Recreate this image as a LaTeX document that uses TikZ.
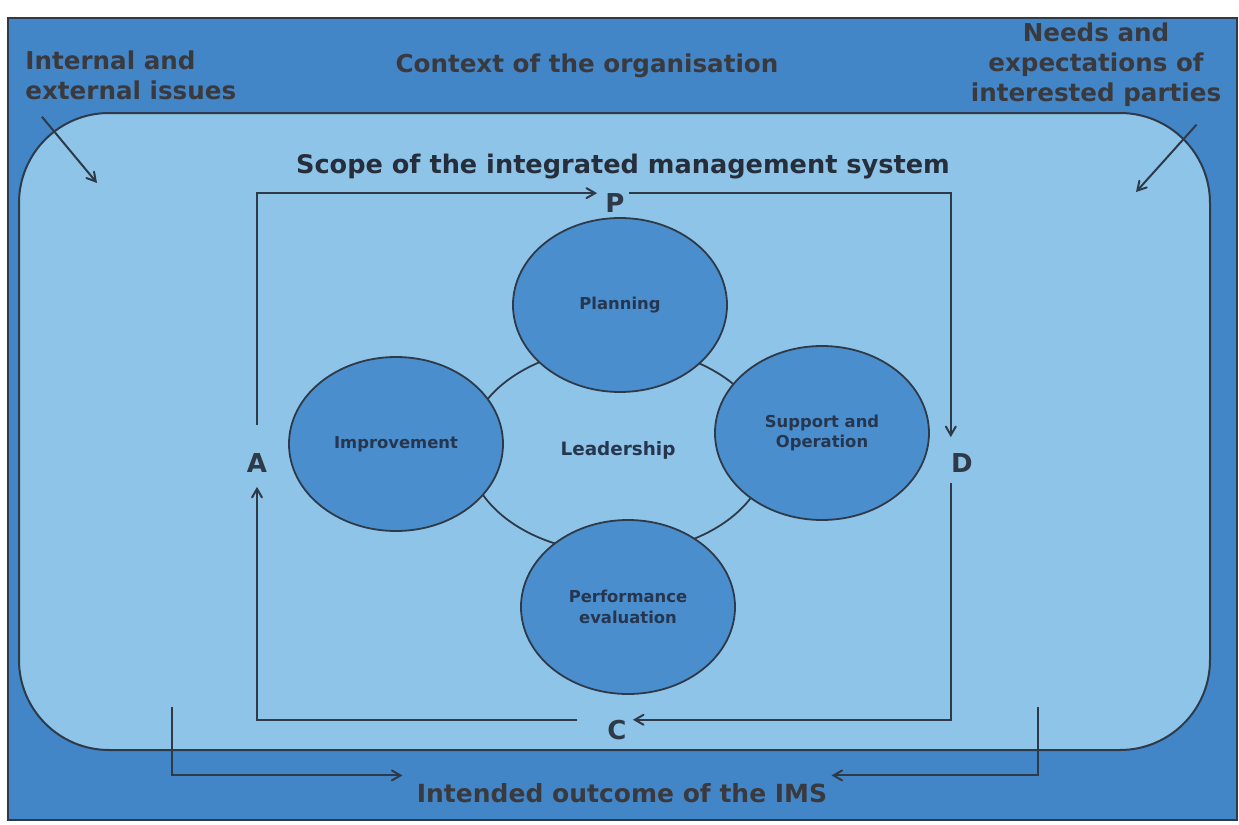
\documentclass[tikz,border=0pt]{standalone}
\usepackage{fontspec}
\setmainfont{DejaVu Sans}
\usetikzlibrary{arrows,shapes.geometric}
\definecolor{outerblue}{RGB}{67,134,200}
\definecolor{innerblue}{RGB}{142,196,232}
\definecolor{phaseblue}{RGB}{74,142,205}
\definecolor{edgegrey}{RGB}{47,58,72}
\definecolor{labelgrey}{RGB}{58,58,62}
\definecolor{phasetext}{RGB}{38,54,78}
\tikzset{
  caption/.style = {inner sep=0pt, text=labelgrey,
    font=\fontsize{12.3}{15}\selectfont\bfseries},
  phase/.style = {ellipse, draw=edgegrey, fill=phaseblue, line width=0.9pt,
    minimum width=107pt, minimum height=87pt, inner sep=0pt, align=center,
    text=phasetext, font=\fontsize{8.2}{10.2}\selectfont\bfseries},
  lead_ring/.style = {ellipse, draw=edgegrey, line width=0.9pt,
    minimum width=150pt, minimum height=103pt, text=phasetext,
    font=\fontsize{9.2}{11}\selectfont\bfseries},% the big ring behind
  pdca/.style = {inner sep=0pt, text=edgegrey,
    font=\fontsize{13}{13}\selectfont\bfseries},
  flow/.style = {->, draw=edgegrey, line width=1pt}
}

\begin{document}
\begin{tikzpicture}[x=0.5pt,y=-0.5pt,>=angle 60]
\useasboundingbox (0,0) rectangle (1239,825);
\fill[white] (0,0) rectangle (1239,825);

% context and scope areas
\draw[edgegrey, fill=outerblue, line width=1pt] (8,18) rectangle (1237,820);
\draw[edgegrey, fill=innerblue, line width=1pt, rounded corners=45pt]
  (19,113) rectangle (1210,750);

% leadership and the four phases
\node [lead_ring] (lead) at (618,450) {Leadership};
\node [phase] (plan) at (620,305) {Planning};
\node [phase] (supp) at (822,433) {Support and\\Operation};
\node [phase] (impr) at (396,444) {Improvement};
\node [phase] (perf) at (628,607) {Performance\\evaluation};

% PDCA loop
\node [pdca] (P) at (615,203) {P};
\node [pdca] (D) at (962,463) {D};
\node [pdca] (C) at (617,730) {C};
\node [pdca] (A) at (257,463) {A};
\draw[flow] ([yshift=14pt]A.north) |- ([xshift=-4pt]P.north west);
\draw[flow] ([xshift=2pt]P.north east) -| ([yshift=8pt]D.north west);
\draw[flow] ([yshift=-5pt]D.south west) |- ([xshift=3pt]C.north east);
\draw[flow] ([xshift=-15pt]C.north west) -| ([yshift=-7pt]A.south);

% captions
\node [caption, anchor=north west, align=left] (issues) at (25,50)
  {Internal and\\external issues};
\node [caption] (context) at (587,66) {Context of the organisation};
\node [caption, anchor=north, align=center] (parties) at (1096,22)
  {Needs and\\expectations of\\interested parties};
\node [caption, text=edgegrey!80!black, font=\fontsize{12.8}{15}\selectfont\bfseries]
  (scope) at (623,167) {Scope of the integrated management system};
\node [caption, font=\fontsize{12.5}{15}\selectfont\bfseries]
  (outcome) at (622,793) {Intended outcome of the IMS};

\coordinate (issuesTip) at (97,183);
\coordinate (partiesTip) at (1136,192);
\coordinate (inL) at (172,707);
\coordinate (inR) at (1038,707);
\draw[flow] (issues.south west) ++(17,17) -- (issuesTip);
\draw[flow] (parties.south east) ++(-25,18) -- (partiesTip);
\draw[flow] (inL) |- ([shift={(-7pt,3.75pt)}]outcome.north west);
\draw[flow] (inR) |- ([shift={(2pt,3.75pt)}]outcome.north east);
\end{tikzpicture}
\end{document}
